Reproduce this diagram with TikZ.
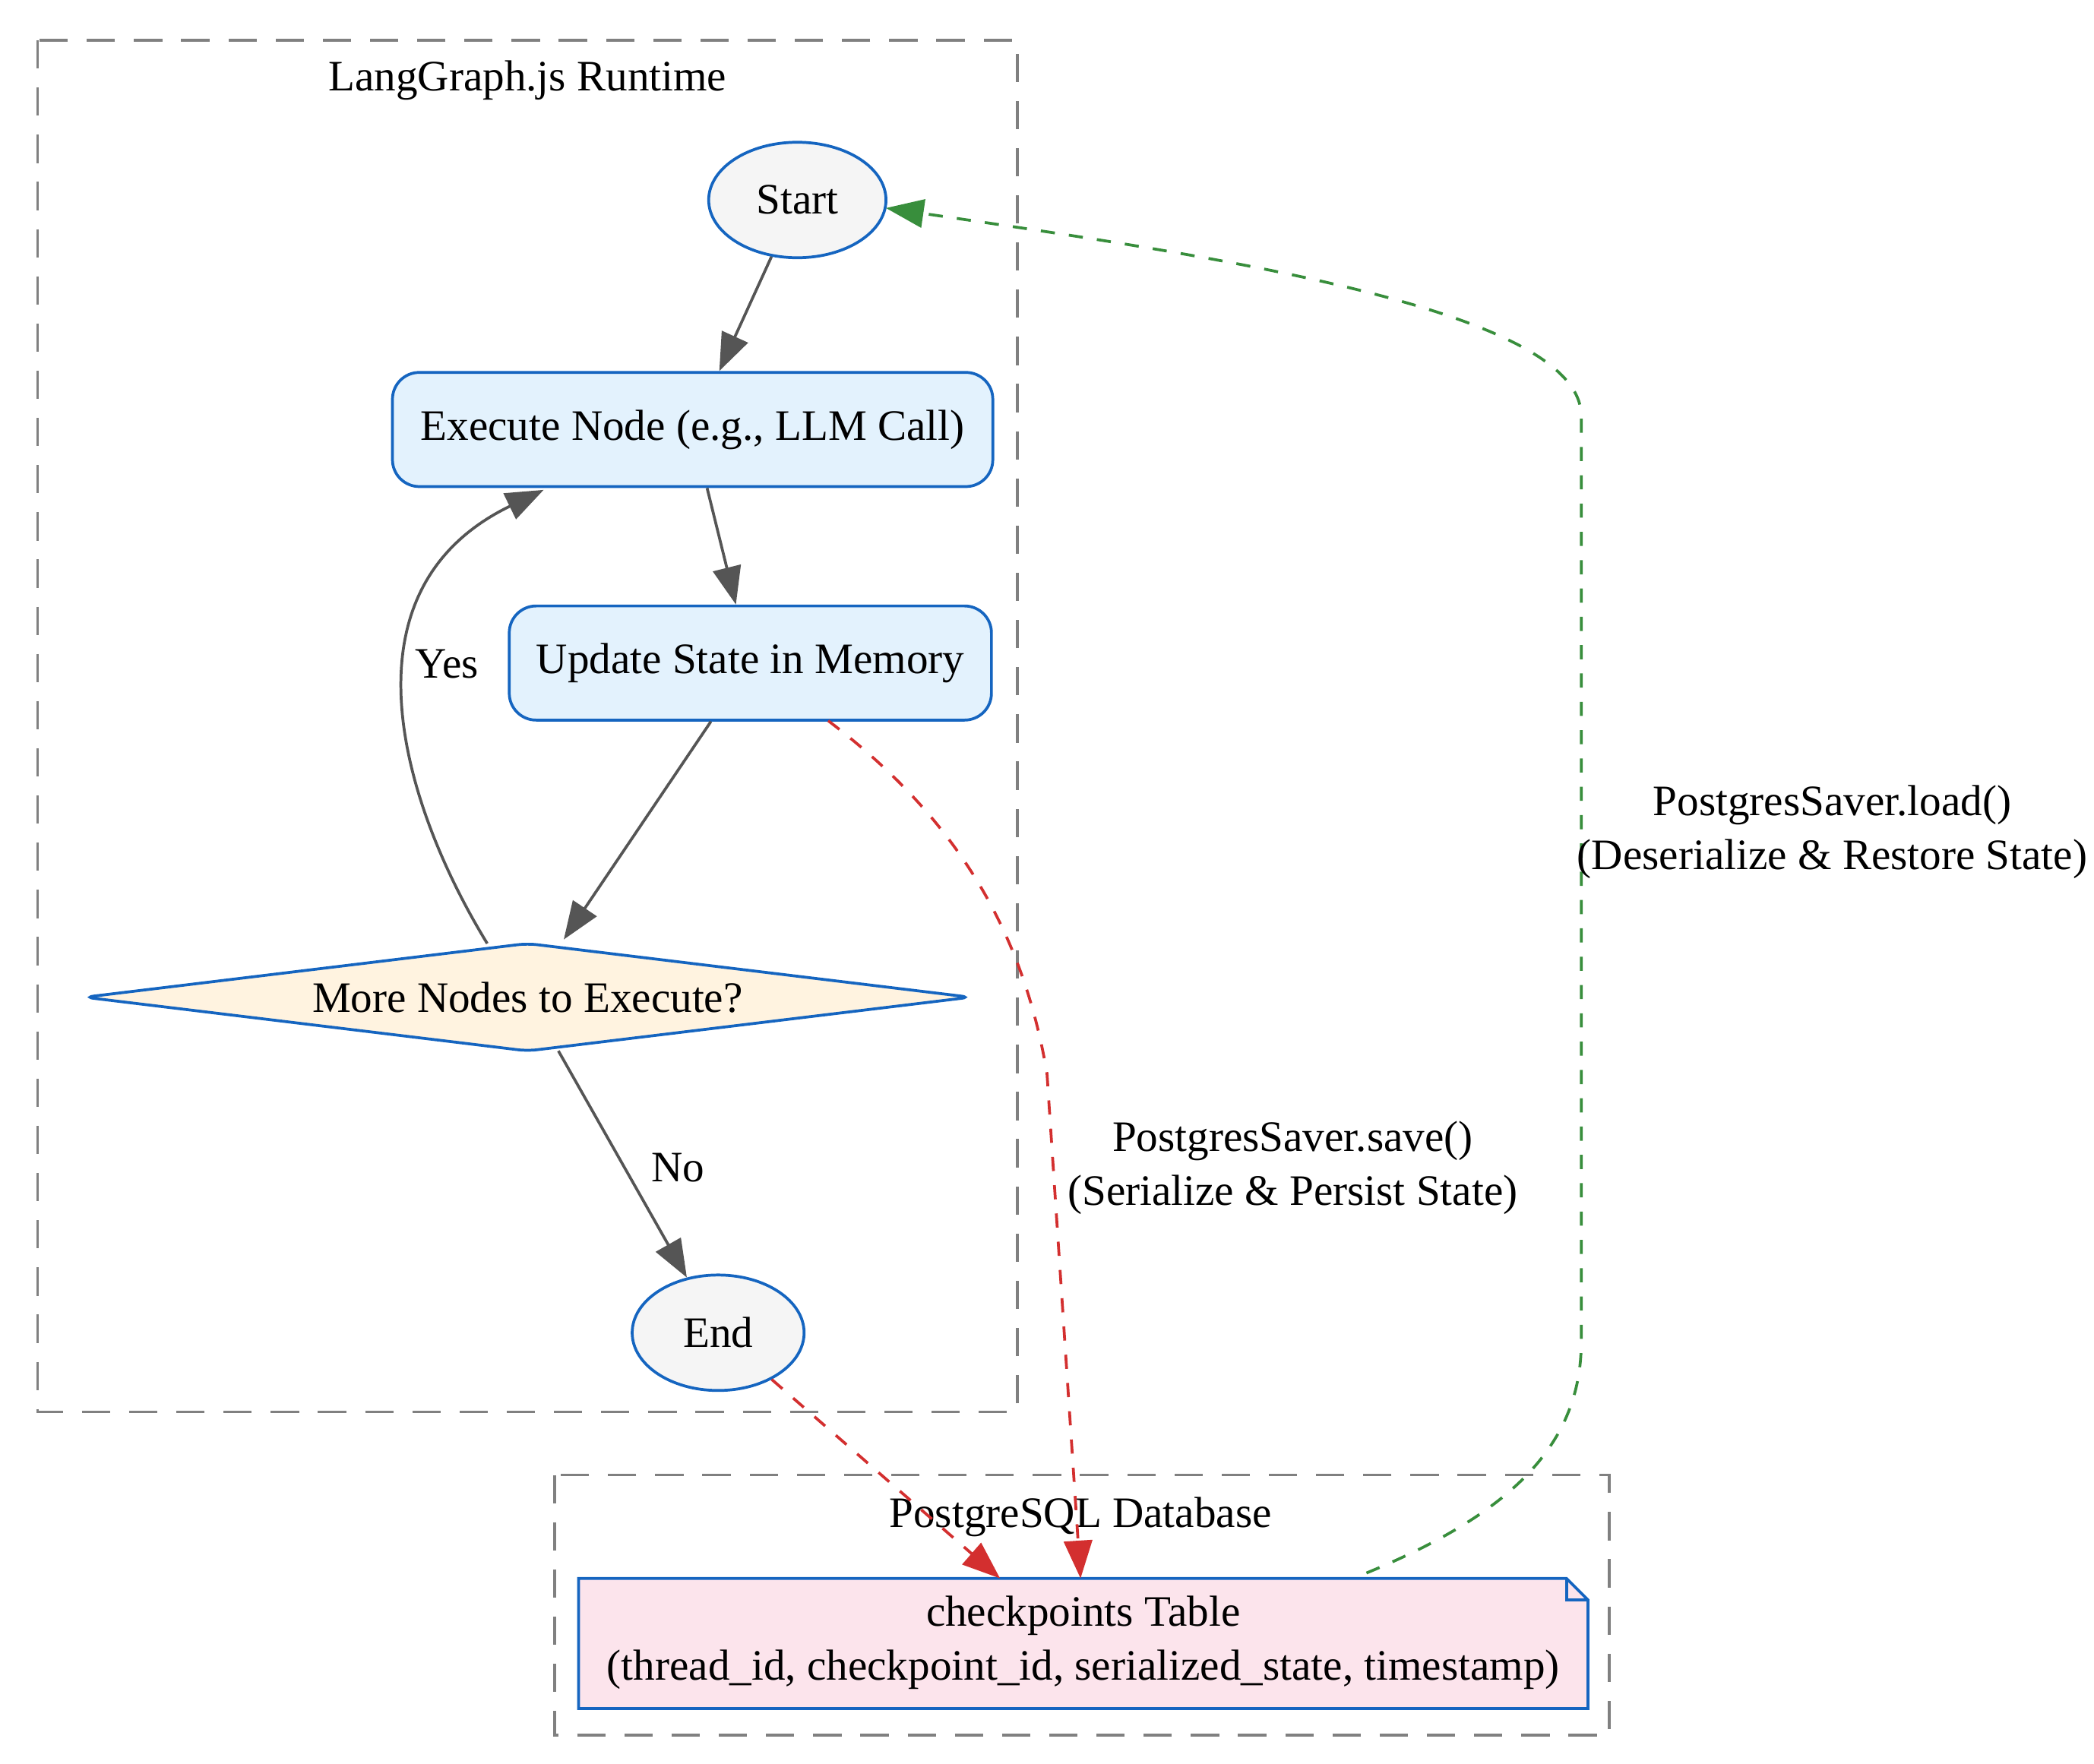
\documentclass[tikz,border=0pt]{standalone}
\usepackage{fontspec}
\setmainfont{Liberation Serif}
\usetikzlibrary{shapes.geometric,arrows.meta}

\definecolor{nodeblue}{HTML}{1565C0}
\definecolor{procfill}{HTML}{E3F2FD}
\definecolor{termfill}{HTML}{F5F5F5}
\definecolor{decfill}{HTML}{FFF3E0}
\definecolor{dbfill}{HTML}{FCE4EC}
\definecolor{edgegray}{HTML}{555555}
\definecolor{savered}{HTML}{D32F2F}
\definecolor{loadgreen}{HTML}{388E3C}

\tikzstyle{terminal} = [ellipse, draw=nodeblue, fill=termfill, semithick, minimum width=1.32cm, minimum height=0.86cm, inner sep=0pt]
\tikzstyle{process} = [rectangle, rounded corners=0.2cm, draw=nodeblue, fill=procfill, semithick, minimum height=0.85cm, text centered]
\tikzstyle{cluster} = [draw=gray, semithick, dash pattern=on 6pt off 4pt]
\tikzstyle{arrow} = [draw=edgegray, semithick, -{Triangle[length=8pt,width=6pt]}]
\tikzstyle{save} = [draw=savered, semithick, dashed, -{Triangle[length=8pt,width=6pt]}]
\tikzstyle{load} = [draw=loadgreen, semithick, dashed, -{Triangle[length=8pt,width=6pt]}]

\begin{document}
\begin{tikzpicture}[x=0.01cm, y=-0.01cm, font=\fontsize{9.2}{11.5}\selectfont]
\useasboundingbox (0,0) rectangle (1560,1314);

% clusters
\draw [cluster] (28,30) rectangle (758,1052);
\node (rtlabel) at (393,60) {LangGraph.js Runtime};
\draw [cluster] (413,1099) rectangle (1199,1293);
\node (dblabel) at (805,1130) {PostgreSQL Database};

\node (start) [terminal] at (594,149) {Start};
\node (exec) [process, minimum width=4.47cm] at (516,320) {Execute Node (e.g., LLM Call)};
\node (update) [process, minimum width=3.59cm] at (559,494) {Update State in Memory};

% decision diamond
\draw [draw=nodeblue, fill=decfill, semithick, rounded corners=2pt] (393,703) -- (723,743) -- (393,783) -- (63,743) -- cycle;
\node (more) at (393,743) {More Nodes to Execute?};
\node (end) [terminal, minimum width=1.28cm] at (535,993) {End};

% checkpoints table (note shape)
\draw [draw=nodeblue, fill=dbfill, semithick] (431,1176) -- (1167,1176) -- (1183,1192) -- (1183,1273) -- (431,1273) -- cycle;
\draw [draw=nodeblue, semithick] (1167,1176) -- (1167,1192) -- (1183,1192);
\node (table) [align=center] at (807,1224) {checkpoints Table\\(thread\_id, checkpoint\_id, serialized\_state, timestamp)};
\coordinate (saveIn) at (805,1176);
\coordinate (endIn) at (745,1176);
\coordinate (loadOut) at (1018,1172);
\coordinate (moreTop) at (420,700);
\coordinate (moreBot) at (416,783);
\coordinate (yesOut) at (363,703);

\draw [arrow] (start) -- (exec);
\draw [arrow] (exec) -- (update);
\draw [arrow] (update) -- (moreTop);
\draw [arrow] (yesOut) .. controls (300,600) and (250,440) .. (405,365);
\node (yes) at (333,495) {Yes};
\draw [arrow] (moreBot) -- (end);
\node (no) at (505,870) {No};

\draw [save] (617,537) .. controls (700,600) and (760,680) .. (780,800) -- (saveIn);
\node (savelbl) [align=center] at (963,870) {PostgresSaver.save()\\(Serialize \& Persist State)};
\draw [save] (end) -- (endIn);

\draw [load] (loadOut) .. controls (1120,1130) and (1178,1080) .. (1178,1000) -- (1178,310)
  .. controls (1178,230) and (900,190) .. (660,155);
\node (loadlbl) [align=center] at (1365,620) {PostgresSaver.load()\\(Deserialize \& Restore State)};
\end{tikzpicture}
\end{document}
